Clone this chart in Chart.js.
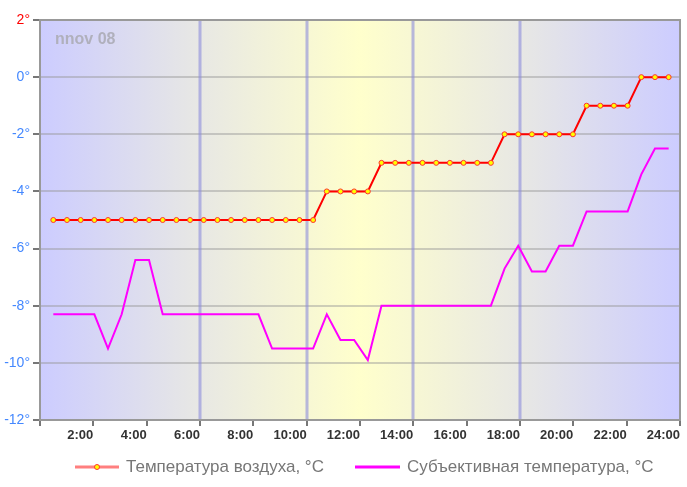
<!DOCTYPE html>
<html>
<head>
<meta charset="utf-8">
<script src="https://cdn.jsdelivr.net/npm/chart.js@4"></script>
<style>
  html, body { margin: 0; padding: 0; background: #fff; }
  #wrap { width: 687px; height: 487px; }
</style>
</head>
<body>
<div id="wrap"><canvas id="myChart" width="687" height="487"></canvas></div>
<script>
// температура воздуха, по точкам (примерно каждые полчаса)
const tempVozduha = [
  -5, -5, -5, -5, -5, -5, -5, -5, -5, -5,
  -5, -5, -5, -5, -5, -5, -5, -5, -5, -5,
  -4, -4, -4, -4,
  -3, -3, -3, -3, -3, -3, -3, -3, -3,
  -2, -2, -2, -2, -2, -2,
  -1, -1, -1, -1,
  0, 0, 0
];
// субъективная температура
const tempSubj = [
  -8.3, -8.3, -8.3, -8.3, -9.5, -8.3, -6.4, -6.4,
  -8.3, -8.3, -8.3, -8.3, -8.3, -8.3, -8.3, -8.3,
  -9.5, -9.5, -9.5, -9.5, -8.3, -9.2, -9.2, -9.9,
  -8, -8, -8, -8, -8, -8, -8, -8, -8,
  -6.7, -5.9, -6.8, -6.8, -5.9, -5.9,
  -4.7, -4.7, -4.7, -4.7, -3.4, -2.5, -2.5
];
const horasTicks = [0, 2, 4, 6, 8, 10, 12, 14, 16, 18, 20, 22, 24];
const lineasVerticales = [6, 10, 14, 18];
const gradosTicks = [-12, -10, -8, -6, -4, -2, 0, 2];
const etiquetas = ["Температура воздуха, °C", "Субъективная температура, °C"];
const titulo = "nnov 08";

const puntos = (arr) => arr.map((v, i) => ({ x: i, y: v }));

// fondo con degradado + lineas azules verticales
const fondo = {
  id: 'fondo',
  beforeDatasetsDraw(chart) {
    const { ctx, chartArea: a, scales } = chart;
    ctx.save();
    const g = ctx.createLinearGradient(a.left, 0, a.right, 0);
    g.addColorStop(0, '#ccccff');
    g.addColorStop(0.25, '#e8e8e4');
    g.addColorStop(0.5, '#ffffcc');
    g.addColorStop(0.75, '#e8e8e4');
    g.addColorStop(1, '#ccccff');
    ctx.fillStyle = g;
    ctx.fillRect(a.left, a.top, a.right - a.left, a.bottom - a.top);
    // grilla horizontal
    ctx.strokeStyle = 'rgba(150,150,150,0.45)';
    ctx.lineWidth = 2;
    gradosTicks.forEach((t) => {
      const y = Math.round(scales.y.getPixelForValue(t));
      ctx.beginPath(); ctx.moveTo(a.left, y); ctx.lineTo(a.right, y); ctx.stroke();
    });
    ctx.strokeStyle = 'rgba(140,140,220,0.6)';
    ctx.lineWidth = 3;
    lineasVerticales.forEach((h) => {
      const x = Math.round(scales.x.getPixelForValue(h));
      ctx.beginPath(); ctx.moveTo(x, a.top); ctx.lineTo(x, a.bottom); ctx.stroke();
    });
    ctx.fillStyle = '#b0b0bc';
    ctx.font = 'bold 16px "Liberation Sans", Arial, sans-serif';
    ctx.textBaseline = 'middle';
    ctx.fillText(titulo, a.left + 15, a.top + 20);
    // borde
    ctx.strokeStyle = '#999999';
    ctx.lineWidth = 2;
    ctx.strokeRect(a.left, a.top, a.right - a.left, a.bottom - a.top);
    ctx.restore();
  }
};

// leyenda abajo
const leyenda = {
  id: 'leyenda',
  afterDraw(chart) {
    const { ctx } = chart;
    const y = 467;
    ctx.save();
    ctx.lineWidth = 3;
    ctx.strokeStyle = '#ff7f7f';
    ctx.beginPath(); ctx.moveTo(75, y); ctx.lineTo(119, y); ctx.stroke();
    ctx.beginPath(); ctx.arc(97, y, 2.5, 0, Math.PI * 2);
    ctx.fillStyle = '#ffff00'; ctx.fill();
    ctx.lineWidth = 1; ctx.strokeStyle = '#ff3333'; ctx.stroke();
    ctx.lineWidth = 3;
    ctx.strokeStyle = '#ff00ff';
    ctx.beginPath(); ctx.moveTo(355, y); ctx.lineTo(400, y); ctx.stroke();
    ctx.fillStyle = '#777777';
    ctx.font = '17px "Liberation Sans", Arial, sans-serif';
    ctx.textBaseline = 'middle';
    ctx.fillText(etiquetas[0], 126, y);
    ctx.fillText(etiquetas[1], 407, y);
    ctx.restore();
  }
};

const config = {
  type: 'line',
  data: {
    datasets: [
      {
        label: etiquetas[0],
        data: puntos(tempVozduha),
        xAxisID: 'xi',
        borderColor: '#ff0000',
        borderWidth: 2,
        pointRadius: 2.5,
        pointBackgroundColor: '#ffff00',
        pointBorderColor: '#ff3333',
        pointBorderWidth: 1,
        tension: 0,
        order: 1
      },
      {
        label: etiquetas[1],
        data: puntos(tempSubj),
        xAxisID: 'xi',
        borderColor: '#ff00ff',
        borderWidth: 2,
        pointRadius: 0,
        tension: 0,
        order: 2
      }
    ]
  },
  options: {
    responsive: false,
    animation: false,
    layout: { padding: { top: 20, right: 7, left: 0, bottom: 37 } },
    plugins: { legend: { display: false }, tooltip: { enabled: false } },
    scales: {
      xi: {
        type: 'linear', display: false, min: -0.973, max: 45.83
      },
      x: {
        type: 'linear', position: 'bottom', min: 0, max: 24,
        afterBuildTicks: (ax) => { ax.ticks = horasTicks.map((v) => ({ value: v })); },
        afterFit: (ax) => { ax.height = 30; ax.paddingLeft = 0; ax.paddingRight = 0; },
        border: { display: false },
        grid: { drawOnChartArea: false, drawTicks: true, tickLength: 6, color: '#777777', lineWidth: 2 },
        ticks: {
          padding: 2,
          align: 'end',
          maxRotation: 0,
          autoSkip: false,
          color: '#333333',
          font: { family: '"Liberation Sans", Arial, sans-serif', size: 13, weight: 'bold' },
          callback: (v) => (v === 0 ? '' : v + ':00')
        }
      },
      y: {
        min: -12, max: 2,
        afterBuildTicks: (ax) => { ax.ticks = gradosTicks.map((v) => ({ value: v })); },
        afterFit: (ax) => { ax.width = 40; ax.paddingTop = 0; ax.paddingBottom = 0; },
        border: { display: false },
        grid: { drawOnChartArea: false, drawTicks: true, tickLength: 7, color: '#777777', lineWidth: 2 },
        ticks: {
          padding: 3,
          color: (c) => (c.tick && c.tick.value === 2 ? '#ff0000' : '#4488ff'),
          font: { family: '"Liberation Sans", Arial, sans-serif', size: 14 },
          callback: (v) => (v < 0 ? '-' + Math.abs(v) : v) + '°'
        }
      }
    }
  },
  plugins: [fondo, leyenda]
};

new Chart(document.getElementById('myChart'), config);
</script>
</body>
</html>
